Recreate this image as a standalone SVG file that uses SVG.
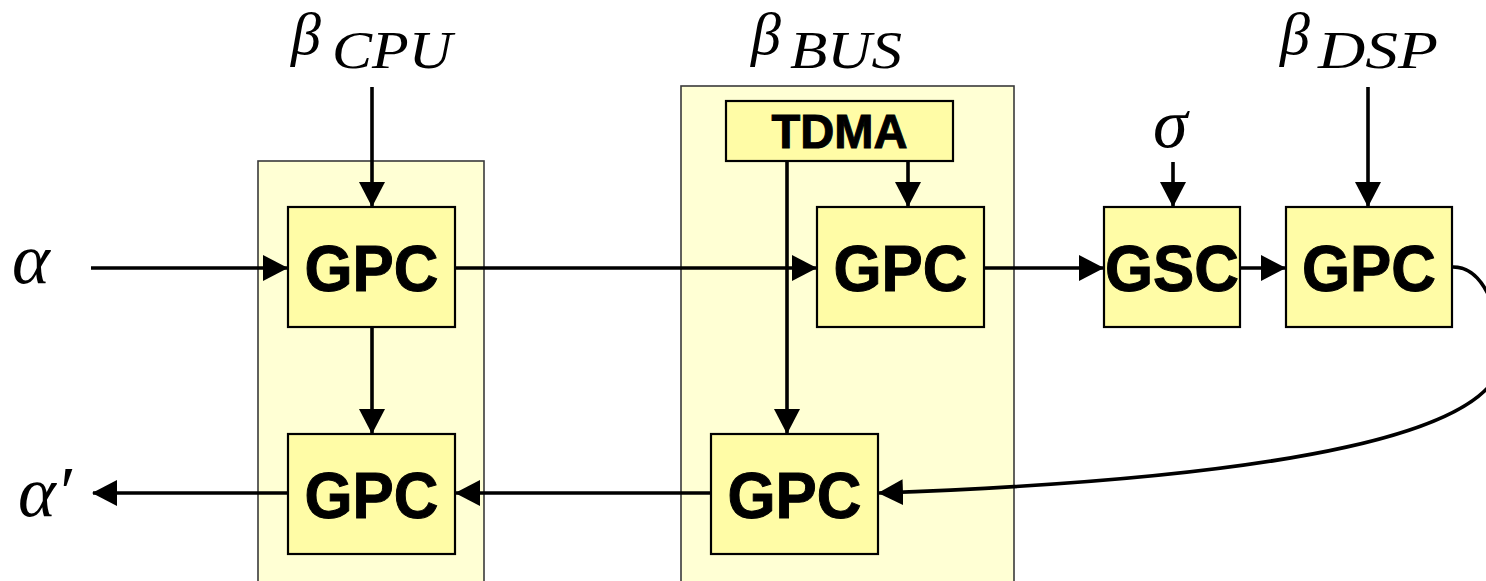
<svg xmlns="http://www.w3.org/2000/svg" width="1486" height="581" viewBox="0 0 1486 581">
  <style>
    .group { fill: #FFFFD4; stroke: #3a3a3a; stroke-width: 1.6; }
    .block { fill: #FFFCA6; stroke: #000000; stroke-width: 2.2; }
    .lbl { font-family: "Liberation Sans", Arial, sans-serif; font-weight: bold; fill: #000000; stroke: #000000; stroke-width: 1; text-anchor: middle; }
    .math { font-family: "Liberation Serif", "Times New Roman", serif; font-style: italic; fill: #000000; }
    .wire { fill: none; stroke: #000000; stroke-width: 3.6; }
  </style>
  <defs>
    <marker id="arrow" markerUnits="userSpaceOnUse" markerWidth="25" markerHeight="27" refX="24" refY="13" orient="auto">
      <path d="M0,0 L25,13 L0,26 Z" fill="#000000"/>
    </marker>
  </defs>

  <rect width="1486" height="581" fill="#FFFFFF"/>

  <!-- resource groups -->
  <g id="cpu-group"><rect class="group" x="258" y="161" width="226" height="430"/></g>
  <g id="bus-group"><rect class="group" x="681" y="86" width="333" height="505"/></g>

  <!-- labels -->
  <g id="beta-cpu">
    <text class="math" x="291" y="54" font-size="60">β</text>
    <text class="math" x="332" y="68" font-size="52" textLength="120" lengthAdjust="spacingAndGlyphs">CPU</text>
  </g>
  <g id="beta-bus">
    <text class="math" x="751" y="54" font-size="60">β</text>
    <text class="math" x="790" y="68" font-size="52" textLength="112" lengthAdjust="spacingAndGlyphs">BUS</text>
  </g>
  <g id="beta-dsp">
    <text class="math" x="1280" y="54" font-size="60">β</text>
    <text class="math" x="1318" y="68" font-size="52" textLength="120" lengthAdjust="spacingAndGlyphs">DSP</text>
  </g>
  <g id="sigma"><text class="math" x="1153" y="147" font-size="70">σ</text></g>
  <g id="alpha-in"><text class="math" x="12" y="283" font-size="72">α</text></g>
  <g id="alpha-out"><text class="math" x="18" y="516" font-size="72">α′</text></g>

  <!-- processing blocks -->
  <g id="gpc-cpu-top">
    <rect class="block" x="288" y="207" width="167" height="120"/>
    <text class="lbl" x="371.5" y="291" font-size="64" textLength="134" lengthAdjust="spacingAndGlyphs">GPC</text>
  </g>
  <g id="gpc-cpu-bottom">
    <rect class="block" x="288" y="434" width="167" height="120"/>
    <text class="lbl" x="371.5" y="518" font-size="64" textLength="134" lengthAdjust="spacingAndGlyphs">GPC</text>
  </g>
  <g id="tdma">
    <rect class="block" x="726" y="101" width="227" height="60"/>
    <text class="lbl" x="839.5" y="148" font-size="48" textLength="136" lengthAdjust="spacingAndGlyphs">TDMA</text>
  </g>
  <g id="gpc-bus-top">
    <rect class="block" x="817" y="207" width="167" height="120"/>
    <text class="lbl" x="900.5" y="291" font-size="64" textLength="134" lengthAdjust="spacingAndGlyphs">GPC</text>
  </g>
  <g id="gpc-bus-bottom">
    <rect class="block" x="711" y="434" width="167" height="120"/>
    <text class="lbl" x="794.5" y="518" font-size="64" textLength="134" lengthAdjust="spacingAndGlyphs">GPC</text>
  </g>
  <g id="gsc">
    <rect class="block" x="1104" y="207" width="136" height="120"/>
    <text class="lbl" x="1172" y="291" font-size="64" textLength="134" lengthAdjust="spacingAndGlyphs">GSC</text>
  </g>
  <g id="gpc-dsp">
    <rect class="block" x="1286" y="207" width="166" height="120"/>
    <text class="lbl" x="1369" y="291" font-size="64" textLength="134" lengthAdjust="spacingAndGlyphs">GPC</text>
  </g>

  <!-- connectors -->
  <g id="connectors">
    <path class="wire" d="M372,87 L372,206" marker-end="url(#arrow)"/>
    <path class="wire" d="M91,268 L287,268" marker-end="url(#arrow)"/>
    <path class="wire" d="M372,327 L372,433" marker-end="url(#arrow)"/>
    <path class="wire" d="M455,268 L816,268" marker-end="url(#arrow)"/>
    <path class="wire" d="M908,161 L908,206" marker-end="url(#arrow)"/>
    <path class="wire" d="M787,161 L787,433" marker-end="url(#arrow)"/>
    <path class="wire" d="M984,268 L1103,268" marker-end="url(#arrow)"/>
    <path class="wire" d="M1173,162 L1173,206" marker-end="url(#arrow)"/>
    <path class="wire" d="M1240,268 L1285,268" marker-end="url(#arrow)"/>
    <path class="wire" d="M1368,87 L1368,206" marker-end="url(#arrow)"/>
    <path class="wire" d="M1453,267 C1490,267 1502,330 1502,355 C1502,430 1300,478 879,493" marker-end="url(#arrow)"/>
    <path class="wire" d="M711,493 L456,493" marker-end="url(#arrow)"/>
    <path class="wire" d="M288,493 L93,493" marker-end="url(#arrow)"/>
  </g>
</svg>
